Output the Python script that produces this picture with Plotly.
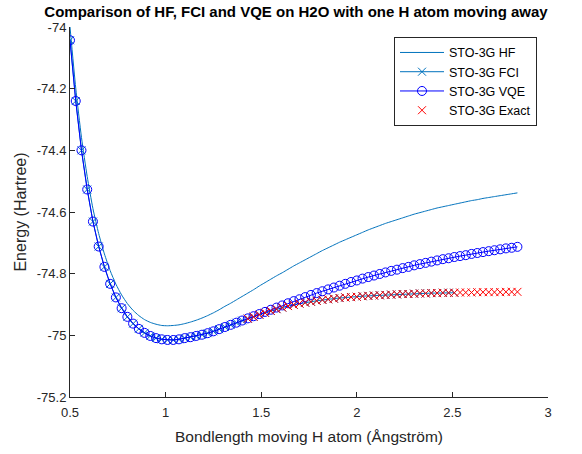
import plotly.graph_objects as go

bondlength = [0.50, 0.53, 0.56, 0.59, 0.62, 0.65, 0.68, 0.71, 0.74, 0.77, 0.80, 0.83, 0.86, 0.89, 0.92, 0.95,
              0.98, 1.01, 1.04, 1.07, 1.10, 1.13, 1.16, 1.19, 1.22, 1.25, 1.28, 1.31, 1.34, 1.37, 1.40, 1.43,
              1.46, 1.49, 1.52, 1.55, 1.58, 1.61, 1.64, 1.67, 1.70, 1.73, 1.76, 1.79, 1.82, 1.85, 1.88, 1.91,
              1.94, 1.97, 2.00, 2.03, 2.06, 2.09, 2.12, 2.15, 2.18, 2.21, 2.24, 2.27, 2.30, 2.33, 2.36, 2.39,
              2.42, 2.45, 2.48, 2.51, 2.54, 2.57, 2.60, 2.63, 2.66, 2.69, 2.72, 2.75, 2.78, 2.81, 2.84]

e_hf = [-74.000, -74.198, -74.358, -74.485, -74.589, -74.670, -74.736, -74.790, -74.834, -74.869, -74.897,
        -74.919, -74.936, -74.949, -74.958, -74.964, -74.968, -74.969, -74.968, -74.966, -74.962, -74.957,
        -74.951, -74.944, -74.936, -74.927, -74.917, -74.906, -74.896, -74.885, -74.874, -74.863, -74.852,
        -74.840, -74.829, -74.818, -74.807, -74.797, -74.786, -74.775, -74.765, -74.755, -74.745, -74.735,
        -74.725, -74.716, -74.707, -74.698, -74.690, -74.682, -74.674, -74.666, -74.658, -74.651, -74.644,
        -74.637, -74.631, -74.625, -74.619, -74.613, -74.607, -74.602, -74.597, -74.592, -74.587, -74.583,
        -74.579, -74.575, -74.571, -74.567, -74.563, -74.560, -74.556, -74.553, -74.550, -74.547, -74.544,
        -74.541, -74.538]

e_vqe = [-74.043, -74.240, -74.400, -74.527, -74.631, -74.712, -74.778, -74.833, -74.877, -74.912, -74.940,
         -74.962, -74.979, -74.992, -75.002, -75.009, -75.013, -75.015, -75.015, -75.013, -75.009, -75.006,
         -75.002, -74.998, -74.993, -74.987, -74.980, -74.973, -74.966, -74.959, -74.952, -74.945, -74.938,
         -74.931, -74.924, -74.917, -74.910, -74.903, -74.896, -74.889, -74.883, -74.876, -74.869, -74.863,
         -74.857, -74.851, -74.845, -74.839, -74.833, -74.827, -74.822, -74.816, -74.811, -74.806, -74.801,
         -74.796, -74.791, -74.787, -74.782, -74.778, -74.773, -74.769, -74.765, -74.761, -74.757, -74.753,
         -74.750, -74.746, -74.743, -74.740, -74.736, -74.733, -74.730, -74.727, -74.724, -74.721, -74.718,
         -74.716, -74.713]

fci_bondlength = [0.50, 0.53, 0.56, 0.59, 0.62, 0.65, 0.68, 0.71, 0.74, 0.77, 0.80, 0.83, 0.86, 0.89, 0.92,
                  0.95, 0.98, 1.01, 1.04, 1.07, 1.10, 1.13, 1.16, 1.19, 1.22, 1.25, 1.28, 1.31, 1.34, 1.37,
                  1.40, 1.43, 1.46, 1.49, 1.52, 1.55, 1.58, 1.61, 1.64, 1.67, 1.70, 1.73, 1.76, 1.79, 1.82,
                  1.85, 1.88, 1.91, 1.94, 1.97, 2.00, 2.03, 2.06, 2.09, 2.12, 2.15, 2.18, 2.21, 2.24, 2.27,
                  2.30, 2.33, 2.36, 2.39, 2.42, 2.45, 2.48, 2.51]

e_fci = [-74.043, -74.240, -74.400, -74.527, -74.631, -74.712, -74.778, -74.833, -74.877, -74.912, -74.940,
         -74.962, -74.979, -74.992, -75.002, -75.009, -75.013, -75.015, -75.015, -75.013, -75.009, -75.006,
         -75.002, -74.998, -74.993, -74.987, -74.980, -74.973, -74.966, -74.959, -74.952, -74.946, -74.940,
         -74.933, -74.927, -74.921, -74.915, -74.910, -74.905, -74.901, -74.897, -74.894, -74.891, -74.888,
         -74.885, -74.883, -74.881, -74.879, -74.877, -74.876, -74.875, -74.873, -74.872, -74.871, -74.870,
         -74.869, -74.868, -74.867, -74.866, -74.866, -74.865, -74.864, -74.864, -74.863, -74.863, -74.862,
         -74.862, -74.862]

exact_bondlength = [1.43, 1.46, 1.49, 1.52, 1.55, 1.58, 1.61, 1.64, 1.67, 1.70, 1.73, 1.76, 1.79, 1.82, 1.85,
                    1.88, 1.91, 1.94, 1.97, 2.00, 2.03, 2.06, 2.09, 2.12, 2.15, 2.18, 2.21, 2.24, 2.27, 2.30,
                    2.33, 2.36, 2.39, 2.42, 2.45, 2.48, 2.51, 2.54, 2.57, 2.60, 2.63, 2.66, 2.69, 2.72, 2.75,
                    2.78, 2.81, 2.84]

e_exact = [-74.946, -74.940, -74.933, -74.927, -74.921, -74.915, -74.910, -74.905, -74.901, -74.897, -74.894,
           -74.891, -74.888, -74.885, -74.883, -74.881, -74.879, -74.877, -74.876, -74.875, -74.873, -74.872,
           -74.871, -74.870, -74.869, -74.868, -74.867, -74.866, -74.866, -74.865, -74.864, -74.864, -74.863,
           -74.863, -74.862, -74.862, -74.862, -74.861, -74.861, -74.861, -74.860, -74.860, -74.860, -74.860,
           -74.860, -74.859, -74.859, -74.859]

x_ticks = [0.5, 1, 1.5, 2, 2.5, 3]
x_tick_labels = ["0.5", "1", "1.5", "2", "2.5", "3"]
y_ticks = [-75.2, -75.0, -74.8, -74.6, -74.4, -74.2, -74.0]
y_tick_labels = ["-75.2", "-75", "-74.8", "-74.6", "-74.4", "-74.2", "-74"]

HF_COLOR = "#0072BD"
FONT = "Liberation Sans, Arial, sans-serif"
AX = "#262626"

fig = go.Figure()
fig.add_trace(go.Scatter(x=bondlength, y=e_hf, mode="lines", name="STO-3G HF",
                         line=dict(color=HF_COLOR, width=1, shape="spline", smoothing=0.6)))
fig.add_trace(go.Scatter(x=fci_bondlength, y=e_fci, mode="lines+markers", name="STO-3G FCI",
                         line=dict(color=HF_COLOR, width=1),
                         marker=dict(symbol="x-thin", size=8, line=dict(color=HF_COLOR, width=1))))
fig.add_trace(go.Scatter(x=bondlength, y=e_vqe, mode="lines+markers", name="STO-3G VQE",
                         line=dict(color="#0000FF", width=1),
                         marker=dict(symbol="circle-open", size=9, color="#0000FF",
                                     line=dict(color="#0000FF", width=1))))
fig.add_trace(go.Scatter(x=exact_bondlength, y=e_exact, mode="markers", name="STO-3G Exact",
                         marker=dict(symbol="x-thin", size=8, line=dict(color="#FF0000", width=1))))

fig.update_layout(
    width=582, height=454,
    margin=dict(l=70, r=34, t=27, b=51),
    paper_bgcolor="white", plot_bgcolor="white",
    font=dict(family=FONT, size=13, color=AX),
    title=dict(text="<b>Comparison of HF, FCI and VQE on H2O with one H atom moving away</b>",
               x=296 / 582, xanchor="center", y=1 - 12 / 454, yanchor="middle",
               font=dict(family=FONT, size=15, color="black")),
    showlegend=True,
    legend=dict(x=(394 - 70) / 478, y=(403 - 37) / 376, xanchor="left", yanchor="top",
                bordercolor=AX, borderwidth=1, bgcolor="white",
                font=dict(family=FONT, size=12.5, color="black"),
                tracegroupgap=0, itemwidth=44),
)
fig.update_xaxes(range=[0.5, 3], tickvals=x_ticks, ticktext=x_tick_labels,
                 showline=True, linecolor=AX, linewidth=1, mirror=False,
                 ticks="inside", ticklen=5, tickcolor=AX, showgrid=False, zeroline=False,
                 tickfont=dict(size=13, color=AX), ticklabelstandoff=3,
                 title=dict(text="Bondlength moving H atom (Ångström)", font=dict(size=15.5, color=AX), standoff=12))
fig.update_yaxes(range=[-75.2, -74], tickvals=y_ticks, ticktext=y_tick_labels,
                 showline=True, linecolor=AX, linewidth=1, mirror=False,
                 ticks="inside", ticklen=5, tickcolor=AX, showgrid=False, zeroline=False,
                 tickfont=dict(size=13, color=AX),
                 title=dict(text="Energy (Hartree)", font=dict(size=16, color=AX), standoff=6))

fig.write_html("out.html")
